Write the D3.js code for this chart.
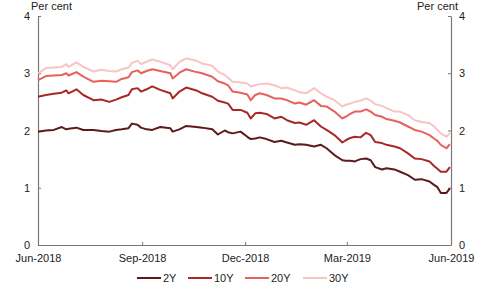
<!DOCTYPE html>
<html>
<head>
<meta charset="utf-8">
<script src="https://cdn.jsdelivr.net/npm/d3@7"></script>
<style>
  body { margin: 0; background: #fff; }
  svg { font-family: "Liberation Sans", Arial, sans-serif; }
</style>
</head>
<body>
<div id="chart"></div>
<script>
var dates = ["2018-06-01","2018-06-08","2018-06-15","2018-06-22","2018-06-26","2018-06-28","2018-07-05","2018-07-11",
  "2018-07-20","2018-07-27","2018-08-03","2018-08-09","2018-08-14","2018-08-20","2018-08-23","2018-08-28","2018-08-31",
  "2018-09-05","2018-09-10","2018-09-17","2018-09-26","2018-09-28","2018-10-04","2018-10-10","2018-10-19","2018-10-24",
  "2018-11-02","2018-11-07","2018-11-13","2018-11-16","2018-11-20","2018-11-27","2018-12-03","2018-12-06","2018-12-10",
  "2018-12-14","2018-12-20","2018-12-27","2019-01-02","2019-01-07","2019-01-14","2019-01-18","2019-01-24","2019-01-31",
  "2019-02-06","2019-02-11","2019-02-18","2019-02-25","2019-02-28","2019-03-04","2019-03-08","2019-03-13","2019-03-18",
  "2019-03-22","2019-03-26","2019-04-01","2019-04-05","2019-04-12","2019-04-17","2019-04-24","2019-04-30","2019-05-06",
  "2019-05-13","2019-05-17","2019-05-20","2019-05-23","2019-05-28","2019-05-31"];

var y2 = [1.98,2.00,2.01,2.06,2.02,2.03,2.05,2.01,2.01,1.99,1.98,2.01,2.02,2.04,2.12,2.10,2.05,
  2.02,2.01,2.06,2.04,1.98,2.02,2.08,2.06,2.05,2.02,1.93,2.00,1.97,1.95,1.98,1.89,1.85,1.86,
  1.88,1.85,1.80,1.82,1.79,1.75,1.76,1.75,1.72,1.75,1.69,1.57,1.48,1.47,1.47,1.46,1.50,1.51,
  1.48,1.36,1.32,1.34,1.32,1.28,1.22,1.14,1.15,1.11,1.05,1.01,0.91,0.91,0.99];

var y10 = [2.59,2.62,2.64,2.66,2.70,2.65,2.72,2.62,2.53,2.54,2.50,2.54,2.58,2.62,2.72,2.74,2.68,
  2.72,2.77,2.71,2.65,2.56,2.68,2.75,2.70,2.65,2.59,2.52,2.49,2.47,2.36,2.36,2.31,2.21,2.30,
  2.31,2.29,2.21,2.24,2.18,2.13,2.14,2.10,2.18,2.07,2.01,1.92,1.79,1.83,1.87,1.89,1.88,1.96,
  1.92,1.80,1.78,1.75,1.72,1.69,1.60,1.51,1.50,1.46,1.38,1.33,1.28,1.28,1.36];

var y20 = [2.88,2.95,2.96,2.97,3.00,2.96,3.02,2.94,2.85,2.87,2.86,2.85,2.90,2.93,3.02,3.05,3.00,
  3.04,3.07,3.04,3.00,2.91,3.01,3.07,3.02,3.00,2.94,2.86,2.82,2.79,2.68,2.66,2.63,2.53,2.62,
  2.65,2.62,2.56,2.56,2.53,2.47,2.49,2.45,2.53,2.43,2.42,2.33,2.21,2.24,2.29,2.33,2.33,2.37,
  2.33,2.27,2.24,2.20,2.17,2.14,2.07,2.01,1.98,1.92,1.86,1.82,1.75,1.69,1.76];

var y30 = [3.00,3.09,3.10,3.11,3.16,3.11,3.19,3.11,3.03,3.06,3.04,3.03,3.07,3.10,3.18,3.22,3.16,
  3.20,3.24,3.20,3.14,3.07,3.20,3.26,3.22,3.17,3.13,3.03,2.97,2.92,2.85,2.84,2.82,2.77,2.79,
  2.81,2.82,2.79,2.74,2.75,2.70,2.67,2.65,2.74,2.65,2.59,2.53,2.42,2.45,2.47,2.50,2.52,2.56,
  2.52,2.46,2.43,2.39,2.33,2.33,2.27,2.18,2.15,2.13,2.07,2.01,1.95,1.89,1.96];

var seriesNames = ["2Y", "10Y", "20Y", "30Y"];
var seriesColors = ["#5c1a1a", "#a82828", "#e8605a", "#f8c4c4"];
var xTickLabels = ["Jun-2018", "Sep-2018", "Dec-2018", "Mar-2019", "Jun-2019"];
var xTickDates = ["2018-06-01", "2018-09-01", "2018-12-01", "2019-03-01", "2019-06-01"];
var yTicks = [0, 1, 2, 3, 4];

var width = 480, height = 288;
var margin = {top: 16, right: 29, bottom: 43, left: 38};

var parse = d3.timeParse("%Y-%m-%d");

var svg = d3.select("#chart").append("svg")
  .attr("width", width)
  .attr("height", height);

var x = d3.scaleTime()
  .domain([parse(xTickDates[0]), parse(xTickDates[4])])
  .range([margin.left, width - margin.right]);

var y = d3.scaleLinear()
  .domain([0, 4])
  .range([height - margin.bottom, margin.top]);

var allSeries = [y2, y10, y20, y30].map(function(vals, i) {
  return {
    name: seriesNames[i],
    color: seriesColors[i],
    values: vals.map(function(v, j) { return {date: parse(dates[j]), value: v}; })
  };
});

// axes: left, right, bottom with inward ticks
var leftAxis = d3.axisLeft(y).tickValues(yTicks).tickSize(-3).tickPadding(8).tickFormat(d3.format("d"));
var rightAxis = d3.axisRight(y).tickValues(yTicks).tickSize(-3).tickPadding(8).tickFormat(d3.format("d"));
var bottomAxis = d3.axisBottom(x)
  .tickValues(xTickDates.map(parse))
  .tickSize(-3)
  .tickPadding(9)
  .tickFormat(function(d, i) { return xTickLabels[i]; });

function styleAxis(g) {
  g.select(".domain").attr("stroke", "#777").attr("stroke-width", 1.2);
  g.selectAll(".tick line").attr("stroke", "#777");
  g.selectAll(".tick text").attr("fill", "#222").style("font-size", "11px");
}

svg.append("g")
  .attr("transform", "translate(" + margin.left + ",0)")
  .call(leftAxis.tickSizeOuter(0))
  .call(styleAxis);

svg.append("g")
  .attr("transform", "translate(" + (width - margin.right) + ",0)")
  .call(rightAxis.tickSizeOuter(0))
  .call(styleAxis);

svg.append("g")
  .attr("transform", "translate(0," + (height - margin.bottom) + ")")
  .call(bottomAxis.tickSizeOuter(0))
  .call(styleAxis);

// unit labels, kept clear of the "4" tick labels
svg.append("text")
  .attr("x", 31).attr("y", 10)
  .style("font-size", "11px").attr("fill", "#222")
  .text("Per cent");

svg.append("text")
  .attr("x", 458).attr("y", 10)
  .attr("text-anchor", "end")
  .style("font-size", "11px").attr("fill", "#222")
  .text("Per cent");

var line = d3.line()
  .x(function(d) { return x(d.date); })
  .y(function(d) { return y(d.value); });

svg.selectAll(".series")
  .data(allSeries.slice().reverse())
  .enter()
  .append("path")
  .attr("class", "series")
  .attr("fill", "none")
  .attr("stroke", function(d) { return d.color; })
  .attr("stroke-width", 2)
  .attr("stroke-linejoin", "round")
  .attr("d", function(d) { return line(d.values); });

// legend
var legendX = [137, 188, 245, 303];
var legend = svg.selectAll(".legend")
  .data(allSeries)
  .enter()
  .append("g")
  .attr("class", "legend")
  .attr("transform", function(d, i) { return "translate(" + legendX[i] + ",278)"; });

legend.append("line")
  .attr("x1", 0).attr("x2", 24)
  .attr("y1", 0).attr("y2", 0)
  .attr("stroke", function(d) { return d.color; })
  .attr("stroke-width", 2);

legend.append("text")
  .attr("x", 26).attr("y", 4)
  .style("font-size", "11px").attr("fill", "#222")
  .text(function(d) { return d.name; });
</script>
</body>
</html>
